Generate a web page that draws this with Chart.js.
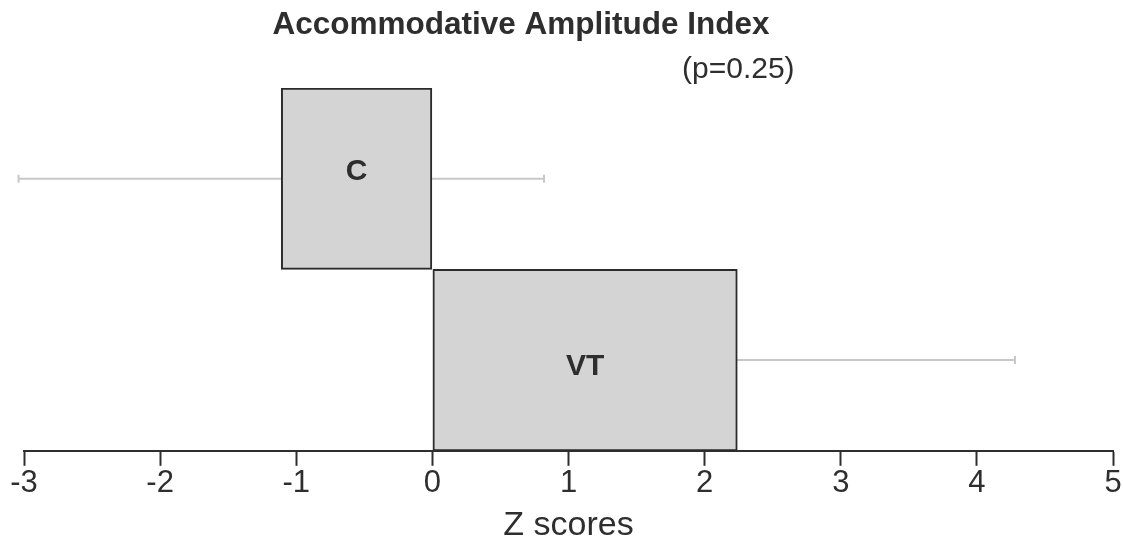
<!DOCTYPE html>
<html>
<head>
<meta charset="utf-8">
<title>Accommodative Amplitude Index</title>
<script src="https://cdn.jsdelivr.net/npm/chart.js@4.4.1/dist/chart.umd.min.js"></script>
<style>
  body { margin: 0; background: #fff; }
  canvas { display: block; }
</style>
</head>
<body>
<canvas id="myChart" width="1123" height="546"></canvas>
<script>
let groups = ["C", "VT"];
let zMeans = [-1.11, 2.24];
let errLow = [-3.04, 0.2];
let errHigh = [0.82, 4.28];
let xTicks = [-3, -2, -1, 0, 1, 2, 3, 4, 5];

let fontName = "'Liberation Sans', Arial, Helvetica, sans-serif";
let inkColor = "#2e2e2e";

// error bars go under the boxes (the VT low whisker is hidden by its box)
const errorBars = {
  id: "errorBars",
  beforeDatasetsDraw(chart) {
    let ctx = chart.ctx;
    let xs = chart.scales.x;
    let meta = chart.getDatasetMeta(0);
    ctx.save();
    ctx.strokeStyle = "#c8c8c8";
    ctx.lineWidth = 2;
    for (let i = 0; i < groups.length; i++) {
      let y = meta.data[i].y;
      let x1 = xs.getPixelForValue(errLow[i]);
      let x2 = xs.getPixelForValue(errHigh[i]);
      ctx.beginPath();
      ctx.moveTo(x1, y);
      ctx.lineTo(x2, y);
      ctx.moveTo(x1, y - 4);
      ctx.lineTo(x1, y + 4);
      ctx.moveTo(x2, y - 4);
      ctx.lineTo(x2, y + 4);
      ctx.stroke();
    }
    ctx.restore();
  },
  afterDatasetsDraw(chart) {
    let ctx = chart.ctx;
    let meta = chart.getDatasetMeta(0);
    // the group names sit a little off the box centres in the original
    let shift = [-7, 7];
    ctx.save();
    ctx.fillStyle = inkColor;
    ctx.font = "bold 30px " + fontName;
    ctx.textAlign = "center";
    ctx.textBaseline = "middle";
    for (let i = 0; i < groups.length; i++) {
      let bar = meta.data[i];
      let cx = (bar.x + bar.base) / 2;
      ctx.fillText(groups[i], cx, bar.y + shift[i]);
    }
    ctx.restore();
  },
  afterDraw(chart) {
    let ctx = chart.ctx;
    ctx.save();
    ctx.fillStyle = inkColor;
    ctx.textBaseline = "alphabetic";
    ctx.textAlign = "center";
    ctx.font = "bold 31.5px " + fontName;
    ctx.fillText("Accommodative Amplitude Index", 521, 34);
    ctx.textAlign = "left";
    ctx.font = "30px " + fontName;
    ctx.fillText("(p=0.25)", 682, 78);
    ctx.restore();
  },
};

let chartCtx = document.getElementById("myChart").getContext("2d");

const myChart = new Chart(chartCtx, {
  type: "bar",
  data: {
    labels: groups,
    datasets: [
      {
        data: zMeans,
        backgroundColor: "#d4d4d4",
        borderColor: "#2b2b2b",
        borderWidth: 2,
        borderSkipped: false,
        barPercentage: 1,
        categoryPercentage: 1,
      },
    ],
  },
  options: {
    indexAxis: "y",
    responsive: false,
    animation: false,
    layout: {
      padding: { top: 88, left: 24, right: 10, bottom: 3 },
    },
    plugins: {
      legend: { display: false },
      tooltip: { enabled: false },
      title: { display: false },
    },
    scales: {
      y: {
        display: false,
      },
      x: {
        min: xTicks[0],
        max: xTicks[xTicks.length - 1],
        afterBuildTicks(scale) {
          scale.ticks = xTicks.map((v) => ({ value: v }));
        },
        grid: {
          drawOnChartArea: false,
          drawTicks: true,
          tickLength: 15,
          tickWidth: 2,
          tickColor: inkColor,
        },
        border: {
          display: true,
          color: inkColor,
          width: 2,
        },
        ticks: {
          color: inkColor,
          font: { family: fontName, size: 31 },
          padding: -1,
          maxRotation: 0,
        },
        title: {
          display: true,
          text: "Z scores",
          color: inkColor,
          font: { family: fontName, size: 34, lineHeight: 1 },
          padding: { top: 8, bottom: 0 },
        },
      },
    },
  },
  plugins: [errorBars],
});
</script>
</body>
</html>
